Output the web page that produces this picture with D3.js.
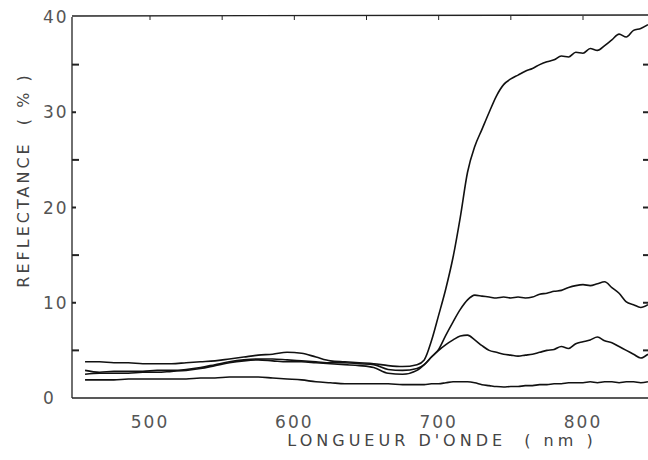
<!DOCTYPE html>
<html>
<head>
<meta charset="utf-8">
<script src="https://cdn.jsdelivr.net/npm/d3@7"></script>
<style>
  body { margin: 0; background: #fff; }
  svg { display: block; }
  .tick-label { font-family: 'DejaVu Sans', sans-serif; font-size: 17px; fill: #555; letter-spacing: 2px; }
  .title { font-family: 'DejaVu Sans', sans-serif; fill: #444; white-space: pre; }
</style>
</head>
<body>
<svg width="648" height="460"></svg>
<script>
// wavelengths (nm): 10 nm steps in the visible, 5 nm steps past the red edge
const WAVELENGTHS = [
  455, 465, 475, 485, 495, 505, 515, 525, 535, 545, 555, 565,
  575, 585, 595, 605, 615, 625, 635, 645, 655, 665, 675, 685,
  690, 695, 700, 705, 710, 715, 720, 725, 730, 735, 740, 745,
  750, 755, 760, 765, 770, 775, 780, 785, 790, 795, 800, 805,
  810, 815, 820, 825, 830, 835, 840, 845
]

// reflectance (%)
const SERIES_A = [
  3.8, 3.8, 3.7, 3.7, 3.6, 3.6, 3.6, 3.7, 3.8, 3.9, 4.1, 4.3,
  4.5, 4.6, 4.8, 4.7, 4.3, 3.9, 3.8, 3.7, 3.6, 3.4, 3.3, 3.5,
  4.0, 6.0, 8.7, 11.5, 14.8, 19.0, 23.7, 26.4, 28.2, 30.0, 31.7, 32.9,
  33.5, 33.9, 34.3, 34.6, 35.0, 35.3, 35.5, 35.9, 35.8, 36.3, 36.2, 36.7,
  36.5, 37.0, 37.6, 38.2, 37.9, 38.6, 38.8, 39.2
]
const SERIES_B = [
  2.9, 2.7, 2.8, 2.8, 2.8, 2.9, 2.9, 3.0, 3.2, 3.5, 3.8, 4.0,
  4.1, 4.1, 4.0, 3.9, 3.8, 3.7, 3.7, 3.6, 3.5, 3.0, 2.9, 3.1,
  3.5, 4.3, 5.1, 6.6, 8.0, 9.3, 10.3, 10.8, 10.7, 10.6, 10.5, 10.6,
  10.5, 10.6, 10.5, 10.6, 10.9, 11.0, 11.2, 11.3, 11.6, 11.8, 11.9, 11.8,
  12.0, 12.2, 11.6, 11.0, 10.1, 9.8, 9.5, 9.8
]
const SERIES_C = [
  2.5, 2.6, 2.6, 2.6, 2.7, 2.7, 2.8, 2.9, 3.1, 3.4, 3.7, 3.9,
  4.0, 3.9, 3.8, 3.8, 3.7, 3.6, 3.5, 3.4, 3.2, 2.6, 2.5, 2.9,
  3.5, 4.3, 5.0, 5.6, 6.1, 6.5, 6.6, 6.1, 5.5, 5.0, 4.8, 4.6,
  4.5, 4.4, 4.5, 4.6, 4.8, 5.0, 5.1, 5.4, 5.2, 5.7, 5.9, 6.1,
  6.4, 6.0, 5.8, 5.4, 5.0, 4.6, 4.2, 4.6
]
const SERIES_D = [
  1.9, 1.9, 1.9, 2.0, 2.0, 2.0, 2.0, 2.0, 2.1, 2.1, 2.2, 2.2,
  2.2, 2.1, 2.0, 1.9, 1.7, 1.6, 1.5, 1.5, 1.5, 1.5, 1.4, 1.4,
  1.4, 1.5, 1.5, 1.6, 1.7, 1.7, 1.7, 1.6, 1.4, 1.3, 1.2, 1.15,
  1.2, 1.2, 1.3, 1.3, 1.4, 1.4, 1.5, 1.5, 1.6, 1.6, 1.6, 1.7,
  1.6, 1.7, 1.7, 1.6, 1.7, 1.7, 1.6, 1.7
]

const X_TICKS = [500, 600, 700, 800]
const Y_TICKS = [0, 10, 20, 30, 40]
const Y_MINOR = [5, 15, 25, 35]
const TOP_TICKS = [500, 550, 600, 650, 700, 750, 800]

const svg = d3.select('svg')
const x = d3.scaleLinear().domain([500, 800]).range([150, 583])
const y = d3.scaleLinear().domain([0, 40]).range([398, 17])
const left = 72
const right = 650

// frame
const frame = svg.append('g').attr('stroke', '#222').attr('stroke-width', 1.3).attr('fill', 'none')
frame.append('line').attr('x1', left).attr('x2', left).attr('y1', y(40)).attr('y2', y(0))
frame.append('line').attr('x1', left).attr('x2', right).attr('y1', y(0)).attr('y2', y(0))
frame.append('line').attr('x1', left).attr('x2', right).attr('y1', y(40) - 1).attr('y2', y(40) - 2)
frame.append('line').attr('x1', right).attr('x2', right).attr('y1', y(40)).attr('y2', y(0))

// left ticks (pointing in)
frame.selectAll('.ltick')
  .data(Y_TICKS.concat(Y_MINOR).filter(d => d > 0 && d < 40))
  .enter().append('line')
  .attr('x1', left).attr('x2', d => left + (Y_MINOR.includes(d) ? 7 : 4))
  .attr('y1', d => y(d)).attr('y2', d => y(d))
  .attr('stroke-width', 2)

// right ticks
frame.selectAll('.rtick')
  .data(Y_TICKS.concat(Y_MINOR).filter(d => d > 0 && d < 40))
  .enter().append('line')
  .attr('x1', right).attr('x2', right - 7)
  .attr('y1', d => y(d)).attr('y2', d => y(d))
  .attr('stroke-width', 2)

// top ticks
frame.selectAll('.ttick')
  .data(TOP_TICKS)
  .enter().append('line')
  .attr('x1', d => x(d)).attr('x2', d => x(d))
  .attr('y1', y(40) - 1).attr('y2', y(40) + 3)
  .attr('stroke-width', 1)

// tick labels
svg.selectAll('.xlabel')
  .data(X_TICKS)
  .enter().append('text')
  .attr('class', 'tick-label')
  .attr('x', d => x(d))
  .attr('y', 428)
  .attr('text-anchor', 'middle')
  .text(d => d)

svg.selectAll('.ylabel')
  .data(Y_TICKS)
  .enter().append('text')
  .attr('class', 'tick-label')
  .attr('x', 43)
  .attr('y', d => y(d) + 6)
  .text(d => d)

// axis titles
svg.append('text')
  .attr('class', 'title')
  .attr('x', 442)
  .attr('y', 446)
  .attr('text-anchor', 'middle')
  .style('font-size', '16px')
  .style('letter-spacing', '4px')
  .text("LONGUEUR D'ONDE  ( nm )")

svg.append('text')
  .attr('class', 'title')
  .attr('transform', 'translate(29,180) rotate(-90)')
  .attr('text-anchor', 'middle')
  .style('font-size', '16px')
  .style('letter-spacing', '3px')
  .text('REFLECTANCE  ( % )')

// spectra
const line = d3.line()
  .x((d, i) => x(WAVELENGTHS[i]))
  .y(d => y(d))
  .curve(d3.curveMonotoneX)

svg.append('g')
  .selectAll('path')
  .data([SERIES_A, SERIES_B, SERIES_C, SERIES_D])
  .enter().append('path')
  .attr('d', line)
  .attr('fill', 'none')
  .attr('stroke', '#111')
  .attr('stroke-width', 1.6)
</script>
</body>
</html>
